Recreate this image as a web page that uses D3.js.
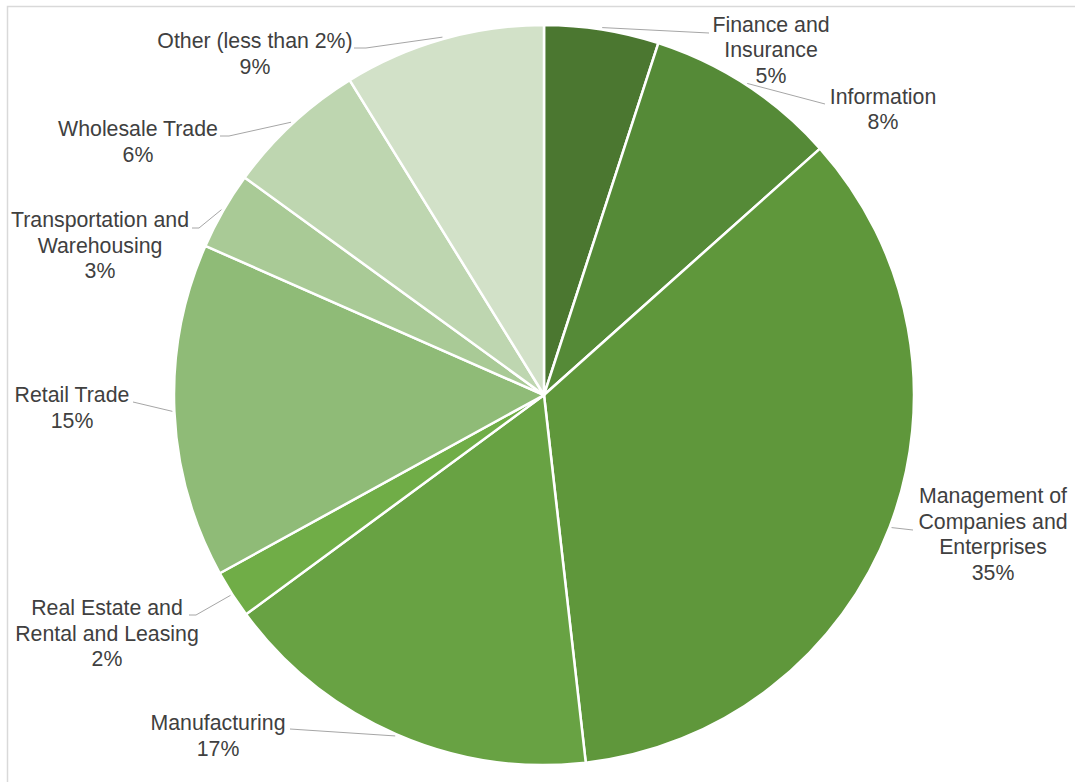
<!DOCTYPE html>
<html>
<head>
<meta charset="utf-8">
<script src="https://cdn.jsdelivr.net/npm/d3@7"></script>
<style>
  html, body { margin: 0; padding: 0; background: #fff; }
  svg { display: block; }
  text { font-family: "Liberation Sans", Arial, sans-serif; fill: #404040; }
</style>
</head>
<body>
<svg id="chart" width="1075" height="782"></svg>
<script>
// ---- data ----
const categories = [
  "Finance and Insurance",
  "Information",
  "Management of Companies and Enterprises",
  "Manufacturing",
  "Real Estate and Rental and Leasing",
  "Retail Trade",
  "Transportation and Warehousing",
  "Wholesale Trade",
  "Other (less than 2%)"
];
const values = [5.0, 8.4, 34.8, 16.7, 2.1, 14.6, 3.4, 6.2, 8.8];
const labelLines = [
  ["Finance and", "Insurance"],
  ["Information"],
  ["Management of", "Companies and", "Enterprises"],
  ["Manufacturing"],
  ["Real Estate and", "Rental and Leasing"],
  ["Retail Trade"],
  ["Transportation and", "Warehousing"],
  ["Wholesale Trade"],
  ["Other (less than 2%)"]
];
const colors = ["#4b7730", "#558a37", "#5f973b", "#68a243", "#70ad47",
                "#8fbb77", "#a9ca96", "#bed6b0", "#d2e1c8"];

// ---- layout (positions, not data) ----
const cx = 544, cy = 395, R = 370;
const fontSize = 21.3, lineH = 25.5;
// label center x, first-line baseline y, leader start (label side) and optional elbow
const labelLayout = [
  { x: 771, y: 31.5, lx: 709, ly: 33 },
  { x: 883, y: 103.5, lx: 825, ly: 104 },
  { x: 993, y: 503, lx: 913, ly: 530 },
  { x: 218, y: 730, lx: 290, ly: 729 },
  { x: 107, y: 615, lx: 189, ly: 615, ex: 196 },
  { x: 72, y: 402, lx: 133, ly: 402 },
  { x: 100, y: 227, lx: 192, ly: 228, ex: 199 },
  { x: 138, y: 136, lx: 220, ly: 136, ex: 229 },
  { x: 255, y: 48, lx: 354, ly: 48, ex: 366 }
];

const svg = d3.select("#chart");

// chart frame
svg.append("rect")
  .attr("x", 7.5).attr("y", 6.5)
  .attr("width", 1200).attr("height", 900)
  .attr("fill", "none").attr("stroke", "#d9d9d9").attr("stroke-width", 1.5);

const data = categories.map((c, i) => ({ name: c, value: values[i], i }));
const pie = d3.pie().sort(null).value(d => d.value);
const arcs = pie(data);
const arc = d3.arc().innerRadius(0).outerRadius(R);
const total = d3.sum(values);

const g = svg.append("g").attr("transform", `translate(${cx},${cy})`);
g.selectAll("path.slice")
  .data(arcs)
  .join("path")
  .attr("class", "slice")
  .attr("d", arc)
  .attr("fill", d => colors[d.data.i])
  .attr("stroke", "#ffffff")
  .attr("stroke-width", 2.5)
  .attr("stroke-linejoin", "round");

// leader lines
const edge = d3.arc().innerRadius(R + 2).outerRadius(R + 2);
svg.append("g").selectAll("path.leader")
  .data(arcs)
  .join("path")
  .attr("class", "leader")
  .attr("fill", "none")
  .attr("stroke", "#a6a6a6")
  .attr("stroke-width", 1)
  .attr("d", d => {
    const L = labelLayout[d.data.i];
    const a = (d.startAngle + d.endAngle) / 2;
    const px = cx + (R + 2) * Math.sin(a), py = cy - (R + 2) * Math.cos(a);
    const p = d3.path();
    p.moveTo(L.lx, L.ly);
    if (L.ex !== undefined) p.lineTo(L.ex, L.ly);
    p.lineTo(px, py);
    return p.toString();
  });

// labels
const lab = svg.append("g").selectAll("text.lbl")
  .data(arcs)
  .join("text")
  .attr("class", "lbl")
  .attr("text-anchor", "middle")
  .style("font-size", fontSize + "px");
lab.each(function(d) {
  const L = labelLayout[d.data.i];
  const lines = labelLines[d.data.i].concat([Math.round(d.data.value / total * 100) + "%"]);
  d3.select(this).selectAll("tspan")
    .data(lines)
    .join("tspan")
    .attr("x", L.x)
    .attr("y", (t, k) => L.y + k * lineH)
    .text(t => t);
});
</script>
</body>
</html>
